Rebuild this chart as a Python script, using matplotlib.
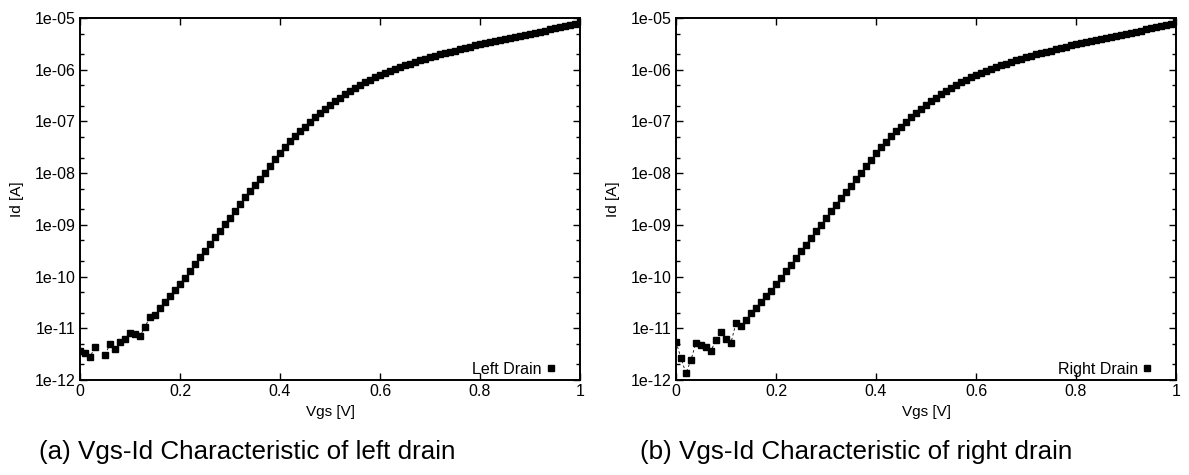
import numpy as np
import matplotlib.pyplot as plt
from matplotlib.ticker import LogLocator, NullFormatter, FixedLocator
from matplotlib.lines import Line2D

plt.rcParams['font.family'] = ['Liberation Sans', 'DejaVu Sans']

# Vgs sweep 0..1 V in 10 mV steps
vgs = [round(i * 0.01, 2) for i in range(101)]

# log10(Id), nan = point not drawn
left_log_id = [
    -11.44, -11.48, -11.56, -11.36, np.nan, -11.51, -11.31, -11.41, -11.26, -11.20,
    -11.10, -11.12, -11.15, -10.97, -10.78, -10.75, -10.60, -10.49, -10.37, -10.26,
    -10.14, -10.02, -9.89, -9.76, -9.63, -9.50, -9.37, -9.24, -9.11, -8.98,
    -8.86, -8.73, -8.60, -8.47, -8.35, -8.23, -8.11, -7.99, -7.86, -7.73,
    -7.61, -7.49, -7.38, -7.28, -7.19, -7.10, -7.01, -6.92, -6.84, -6.76,
    -6.68, -6.61, -6.54, -6.47, -6.41, -6.35, -6.29, -6.24, -6.19, -6.14,
    -6.10, -6.06, -6.02, -5.98, -5.95, -5.91, -5.88, -5.85, -5.82, -5.79,
    -5.76, -5.73, -5.70, -5.68, -5.65, -5.63, -5.60, -5.58, -5.56, -5.53,
    -5.51, -5.49, -5.47, -5.45, -5.43, -5.41, -5.39, -5.37, -5.35, -5.33,
    -5.31, -5.29, -5.27, -5.25, -5.22, -5.20, -5.18, -5.16, -5.14, -5.11,
    -5.08,
]

right_log_id = [
    -11.26, -11.58, -11.87, -11.61, -11.28, -11.33, -11.36, -11.43, -11.23, -11.08,
    -11.21, -11.28, -10.89, -10.96, -10.84, -10.71, -10.60, -10.49, -10.38, -10.27,
    -10.15, -10.03, -9.90, -9.77, -9.64, -9.51, -9.38, -9.25, -9.12, -9.00,
    -8.87, -8.74, -8.61, -8.48, -8.36, -8.24, -8.12, -8.00, -7.87, -7.74,
    -7.62, -7.50, -7.39, -7.29, -7.19, -7.10, -7.01, -6.92, -6.84, -6.76,
    -6.68, -6.61, -6.54, -6.47, -6.41, -6.35, -6.29, -6.24, -6.19, -6.14,
    -6.10, -6.06, -6.02, -5.98, -5.95, -5.91, -5.88, -5.85, -5.82, -5.79,
    -5.76, -5.73, -5.70, -5.68, -5.65, -5.63, -5.60, -5.58, -5.56, -5.53,
    -5.51, -5.49, -5.47, -5.45, -5.43, -5.41, -5.39, -5.37, -5.35, -5.33,
    -5.31, -5.29, -5.27, -5.25, -5.22, -5.20, -5.18, -5.16, -5.14, -5.11,
    -5.08,
]

xticks = [0, 0.2, 0.4, 0.6, 0.8, 1]
xtick_labels = ['0', '0.2', '0.4', '0.6', '0.8', '1']
ytick_labels = ['1e-12', '1e-11', '1e-10', '1e-09', '1e-08', '1e-07', '1e-06', '1e-05']
captions = ['(a) Vgs-Id Characteristic of left drain',
            '(b) Vgs-Id Characteristic of right drain']
legends = ['Left Drain', 'Right Drain']

fig = plt.figure(figsize=(11.89, 4.75), dpi=100)
W, H = 1189, 475
boxes = [(80, 18, 580, 380), (676, 18, 1176, 380)]
cap_x = [247, 856]

for i, (logs, box) in enumerate(zip([left_log_id, right_log_id], boxes)):
    x0, y0, x1, y1 = box
    ax = fig.add_axes([x0 / W, 1 - y1 / H, (x1 - x0) / W, (y1 - y0) / H])
    ids = np.power(10.0, np.array(logs))
    ax.plot(vgs, ids, color='black', lw=0.6, ls=(0, (3, 3)))
    ax.plot(vgs, ids, ls='none', marker='s', ms=4.3, color='black')
    ax.set_yscale('log')
    ax.set_xlim(0, 1)
    ax.set_ylim(1e-12, 1e-5)
    ax.set_xticks(xticks)
    ax.set_xticklabels(xtick_labels)
    ax.yaxis.set_major_locator(FixedLocator([10.0 ** k for k in range(-12, -4)]))
    ax.set_yticklabels(ytick_labels)
    ax.yaxis.set_minor_locator(LogLocator(base=10, subs=[2, 5]))
    ax.yaxis.set_minor_formatter(NullFormatter())
    ax.tick_params(which='both', direction='in', top=True, right=True,
                   labelsize=11.5, width=1.0, pad=3)
    ax.tick_params(which='major', length=5)
    ax.tick_params(which='minor', length=3)
    for s in ax.spines.values():
        s.set_linewidth(1.4)
    ax.set_xlabel('Vgs [V]', fontsize=11, labelpad=4)
    ax.set_ylabel('Id [A]', fontsize=11, labelpad=8)
    h = Line2D([], [], ls='none', marker='s', ms=4.3, color='black')
    ax.legend([h], [legends[i]], loc='center right', bbox_to_anchor=(0.949, 0.03),
              frameon=False, fontsize=11.5, markerfirst=False, handlelength=0.5,
              handletextpad=0.3, borderpad=0, borderaxespad=0)
    fig.text(cap_x[i] / W, 1 - 452 / H, captions[i], fontsize=18.7,
             ha='center', va='center')

fig.savefig('out.png', dpi=100)
